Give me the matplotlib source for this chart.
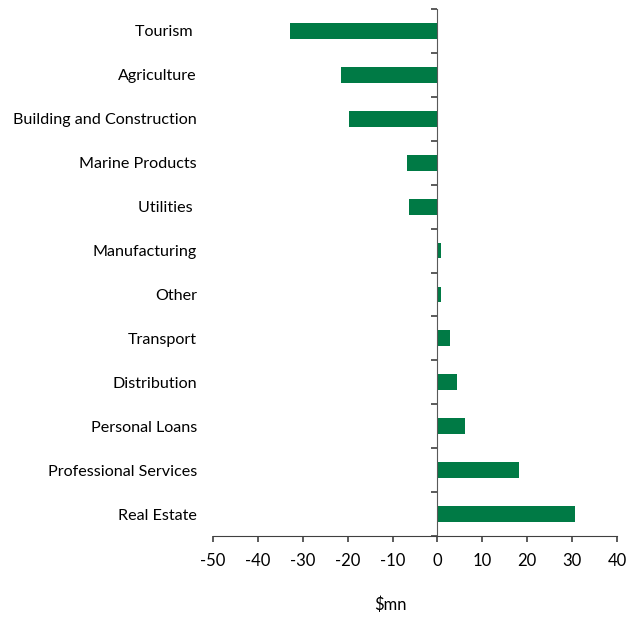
import matplotlib
matplotlib.use("Agg")
import matplotlib.pyplot as plt
import numpy as np

sectors = ["Tourism ", "Agriculture", "Building and Construction", "Marine Products",
           "Utilities ", "Manufacturing", "Other", "Transport", "Distribution",
           "Personal Loans", "Professional Services", "Real Estate"]
change = [-32.9, -21.4, -19.6, -6.7, -6.3, 0.8, 0.7, 2.7, 4.3, 6.2, 18.1, 30.7]

plt.rcParams['font.family'] = ['Lato', 'DejaVu Sans']
plt.rcParams['axes.unicode_minus'] = False

fig = plt.figure(figsize=(6.37, 6.18), dpi=100)
ax = fig.add_axes([213 / 637, 1 - 536 / 618, 404 / 637, 527 / 618])

ypos = np.arange(len(sectors))
ax.barh(ypos, change, height=0.36, color="#007a45")

ax.set_ylim(len(sectors) - 0.5, -0.5)
ax.set_xlim(-50, 40)
ax.set_xticks(np.arange(-50, 41, 10))

ax.set_yticks(ypos)
ax.set_yticklabels(sectors)
ax.set_yticks(np.arange(-0.5, len(sectors), 1), minor=True)

for side in ["top", "left"]:
    ax.spines[side].set_visible(False)
ax.spines["right"].set_position(("data", 0))
ax.spines["right"].set_color("#595959")
ax.spines["bottom"].set_color("#404040")

ax.tick_params(axis="y", which="major", left=False, right=False, labelsize=11.6, pad=8)
ax.tick_params(axis="y", which="minor", left=False, right=True, direction="in",
               length=4, width=1.2, color="#404040")
ax.tick_params(axis="x", direction="out", length=4, width=1.2, color="#404040",
               labelsize=12, pad=8)

ax.set_xlabel("$mn", fontsize=12)
ax.xaxis.set_label_coords(0.438, -0.114)

fig.savefig("out.png", dpi=100)
